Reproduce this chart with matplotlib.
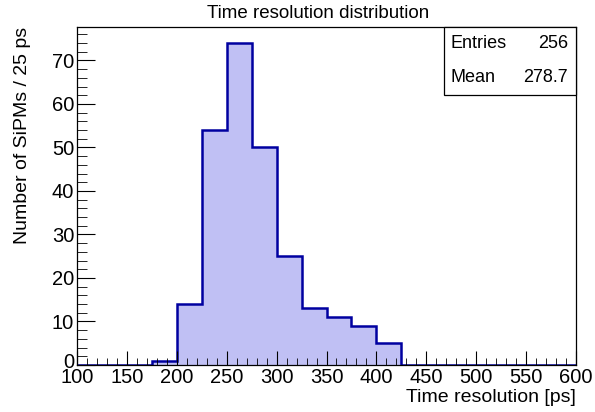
import numpy as np
import matplotlib
matplotlib.use("Agg")
from matplotlib import pyplot as plt
from matplotlib.ticker import MultipleLocator, FuncFormatter

plt.rcParams["font.family"] = ["Liberation Sans", "DejaVu Sans"]
plt.rcParams["hatch.color"] = "#3030e8"
plt.rcParams["hatch.linewidth"] = 0.5

# Histogram contents (25 ps bins from 100 to 600 ps)
bin_edges = np.arange(100, 601, 25)
counts = [0, 0, 0, 1, 14, 54, 74, 50, 25, 13, 11, 9, 5, 0, 0, 0, 0, 0, 0, 0]
entries = 256
mean = 278.7

fig = plt.figure(figsize=(5.95, 4.12), dpi=100)
ax = fig.add_axes([77 / 595, 1 - 365 / 412, (576 - 77) / 595, (365 - 27) / 412])

ax.stairs(counts, bin_edges, fill=True, facecolor="#c0c0f4", edgecolor="none",
          hatch="xxxxxx")
ax.stairs(counts, bin_edges, color="#0000a0", lw=1.8)

ax.set_xlim(100, 600)
ax.set_ylim(0, 77.7)
ax.xaxis.set_major_locator(MultipleLocator(50))
ax.xaxis.set_minor_locator(MultipleLocator(10))
ax.yaxis.set_major_locator(MultipleLocator(10))
ax.yaxis.set_minor_locator(MultipleLocator(2))
# the "0" is drawn separately a bit higher so it clears the "100" below it
ax.yaxis.set_major_formatter(FuncFormatter(lambda v, p: "" if v == 0 else f"{v:g}"))
ax.tick_params(which="both", direction="in", top=False, right=False, labelsize=14.5)
ax.tick_params(axis="y", which="major", length=13, pad=2)
ax.tick_params(axis="y", which="minor", length=7)
ax.tick_params(axis="x", which="major", length=10, pad=2.5)
ax.tick_params(axis="x", which="minor", length=5)
for s in ax.spines.values():
    s.set_linewidth(0.9)
ax.annotate("0", xy=(0, 0), xycoords=ax.get_yaxis_transform(), xytext=(-2, 2),
            textcoords="offset points", ha="right", va="center", fontsize=14.5)

fig.text(318 / 595, 1 - 13 / 412, "Time resolution distribution", ha="center",
         va="center", fontsize=13.5)
fig.text(576 / 595, 1 - 398 / 412, "Time resolution [ps]", ha="right",
         va="center", fontsize=14)
fig.text(23 / 595, 1 - 27 / 412, "Number of SiPMs / 25 ps", ha="center",
         va="top", rotation=90, fontsize=14)

# Stats box
bx0, bx1 = 444 / 595, 576 / 595
by0, by1 = 1 - 95 / 412, 1 - 27 / 412
fig.patches.append(plt.Rectangle((bx0, by0), bx1 - bx0, by1 - by0,
                                 transform=fig.transFigure, facecolor="white",
                                 edgecolor="black", lw=0.9))
fig.text(451 / 595, 1 - 44 / 412, "Entries", ha="left", va="center", fontsize=13)
fig.text(568 / 595, 1 - 44 / 412, f"{entries}", ha="right", va="center", fontsize=13)
fig.text(451 / 595, 1 - 78 / 412, "Mean", ha="left", va="center", fontsize=13)
fig.text(568 / 595, 1 - 78 / 412, f"{mean:.1f}", ha="right", va="center", fontsize=13)

fig.savefig("out.png", dpi=100)
